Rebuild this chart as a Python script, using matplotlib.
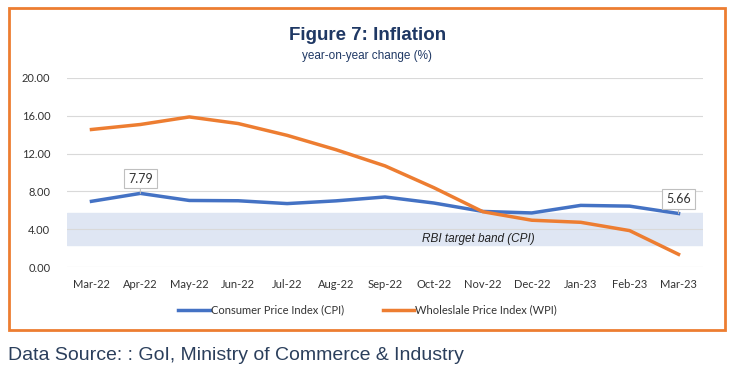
import matplotlib.pyplot as plt
from matplotlib.patches import Rectangle

months = ['Mar-22', 'Apr-22', 'May-22', 'Jun-22', 'Jul-22', 'Aug-22', 'Sep-22',
          'Oct-22', 'Nov-22', 'Dec-22', 'Jan-23', 'Feb-23', 'Mar-23']
cpi = [6.95, 7.79, 7.04, 7.01, 6.71, 7.00, 7.41, 6.77, 5.88, 5.72, 6.52, 6.44, 5.66]
wpi = [14.55, 15.08, 15.88, 15.18, 13.93, 12.41, 10.70, 8.39, 5.85, 4.95, 4.73, 3.85, 1.34]
band_low, band_high = 2.3, 5.7
yticks = [0, 4, 8, 12, 16, 20]

blue = '#4472C4'
orange = '#ED7D31'
navy = '#1F3864'
lab = 'Lato'

fig = plt.figure(figsize=(7.35, 3.71), dpi=100)
ax = fig.add_axes([67/735, 1-267/371, (703-67)/735, (267-78)/371])

x = list(range(len(months)))
ax.axhspan(band_low, band_high, color='#dfe6f3', zorder=0)
ax.plot(x, cpi, color=blue, lw=2.5, label='Consumer Price Index (CPI)', zorder=3)
ax.plot(x, wpi, color=orange, lw=2.5, label='Wholeslale Price Index (WPI)', zorder=3)

ax.set_xlim(-0.5, len(months)-0.5)
ax.set_ylim(0, 20)
ax.set_yticks(yticks)
ax.set_yticklabels(['%.2f' % v for v in yticks], fontsize=8, family=lab, color='#333333')
ax.set_xticks(x)
ax.set_xticklabels(months, fontsize=8, family=lab, color='#333333')
ax.tick_params(length=0, pad=9)
ax.tick_params(axis='y', pad=12)
ax.grid(axis='y', color='#d9d9d9', lw=0.8)
ax.set_axisbelow(True)
for s in ax.spines.values():
    s.set_visible(False)

# callout labels
for i in (1, 12):
    ax.annotate('%.2f' % cpi[i], xy=(i, cpi[i]), xytext=(i, cpi[i] + 1.55),
                ha='center', va='center', fontsize=9, family=lab, color='#333333',
                bbox=dict(boxstyle='square,pad=0.3', fc='white', ec='#bfbfbf', lw=0.8),
                arrowprops=dict(arrowstyle='-', color='#bfbfbf', lw=0.8, shrinkA=0, shrinkB=0),
                zorder=5)

ax.text(7.9, 2.96, 'RBI target band (CPI)', fontsize=8.5, style='italic',
        family='Liberation Sans', color='#222222', ha='center', va='center')

fig.text(0.5, 1-35/371, 'Figure 7: Inflation', fontsize=13.5, fontweight='bold',
         family='Liberation Sans', color=navy, ha='center', va='center')
fig.text(0.5, 1-56/371, 'year-on-year change (%)', fontsize=8.5,
         family='Liberation Sans', color=navy, ha='center', va='center')

fig.legend(loc='center', bbox_to_anchor=(0.5, 1-310/371), ncol=2, frameon=False,
           prop={'family': lab, 'size': 8}, handlelength=2.8, handletextpad=0.1,
           columnspacing=3.5)
for t in fig.legends[0].get_texts():
    t.set_color('#333333')

fig.patches.append(Rectangle((9/735, 1-330/371), (725-9)/735, (330-8)/371,
                             transform=fig.transFigure, fill=False, ec=orange, lw=2))

fig.text(8/735, 1-355/371, 'Data Source: : GoI, Ministry of Commerce & Industry',
         fontsize=14, family='Liberation Sans', color='#2b3f5c', ha='left', va='center')

fig.savefig('out.png', dpi=100)
